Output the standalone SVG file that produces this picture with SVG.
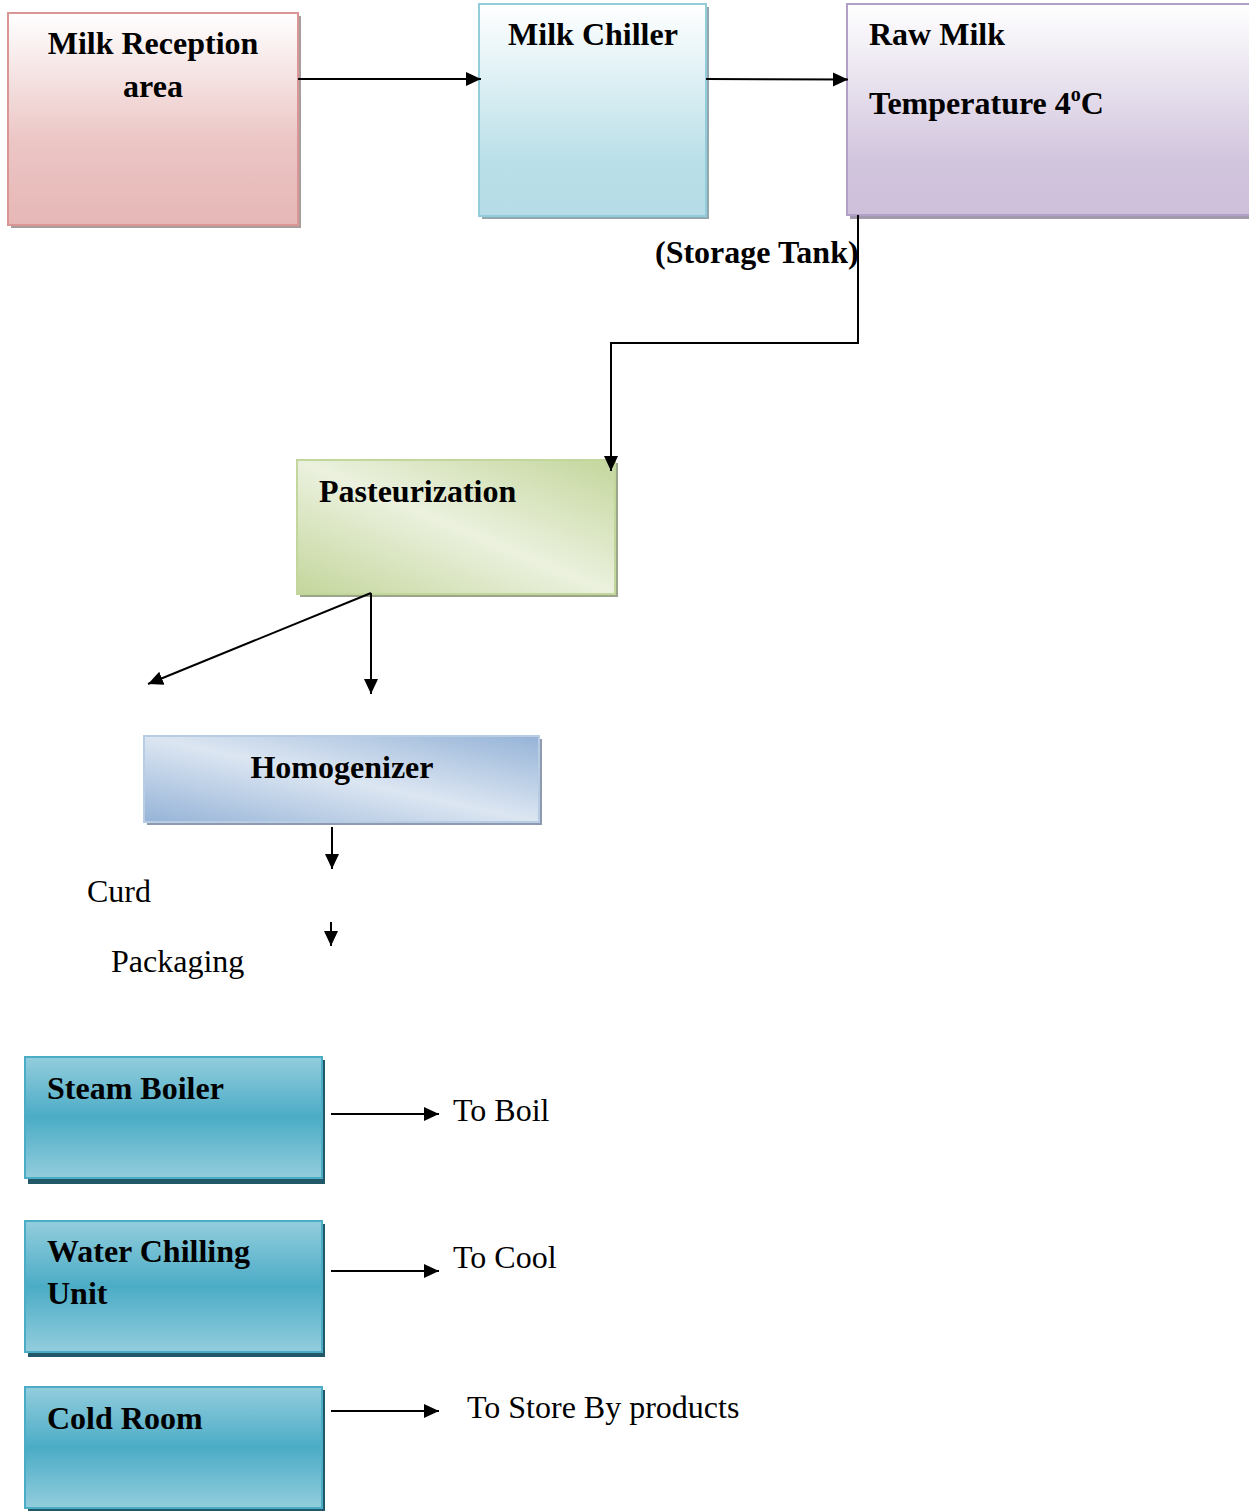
<svg xmlns="http://www.w3.org/2000/svg" width="1249" height="1511" viewBox="0 0 1249 1511">
<defs>
<linearGradient id="gPink" x1="0" y1="0" x2="0" y2="1"><stop offset="0" stop-color="#ffffff"/><stop offset="0.6" stop-color="#ebc6c5"/><stop offset="1" stop-color="#e6b7b6"/></linearGradient>
<linearGradient id="gCyan" x1="0" y1="0" x2="0" y2="1"><stop offset="0" stop-color="#ffffff"/><stop offset="0.75" stop-color="#b9dfe8"/><stop offset="1" stop-color="#b6dde7"/></linearGradient>
<linearGradient id="gPurple" x1="0" y1="0" x2="0" y2="1"><stop offset="0" stop-color="#ffffff"/><stop offset="0.75" stop-color="#d1c4dd"/><stop offset="1" stop-color="#cebfda"/></linearGradient>
<linearGradient id="gGreen" x1="0" y1="1" x2="1" y2="0"><stop offset="0" stop-color="#c4d69c"/><stop offset="0.5" stop-color="#ebf1de"/><stop offset="1" stop-color="#c4d69c"/></linearGradient>
<linearGradient id="gBlue" x1="0" y1="1" x2="1" y2="0"><stop offset="0" stop-color="#95b3d7"/><stop offset="0.5" stop-color="#dce6f2"/><stop offset="1" stop-color="#95b3d7"/></linearGradient>
<linearGradient id="gTeal" x1="0" y1="0" x2="0" y2="1"><stop offset="0" stop-color="#93cddd"/><stop offset="0.5" stop-color="#4bacc6"/><stop offset="1" stop-color="#93cddd"/></linearGradient>
<marker id="ah" markerUnits="userSpaceOnUse" markerWidth="16" markerHeight="16" viewBox="0 0 16 16" refX="15" refY="8" orient="auto"><path d="M0,1 L15,8 L0,15 Z" fill="#000"/></marker>
</defs>
<style>
.b{font-family:"Liberation Serif","Times New Roman",serif;font-weight:bold;font-size:32px;fill:#000}
.n{font-family:"Liberation Serif","Times New Roman",serif;font-size:32px;fill:#000}
.c{stroke:#000;stroke-width:2;fill:none}
.a{stroke:#000;stroke-width:2;fill:none;marker-end:url(#ah)}
</style>
<rect width="1249" height="1511" fill="#fff"/>
<g id="milk-reception">
<rect x="11" y="16" width="290" height="212" fill="#a89c9c"/>
<rect x="8" y="13" width="290" height="212" fill="url(#gPink)" stroke="#d99694" stroke-width="2"/>
<text class="b" x="153" y="54" text-anchor="middle">Milk Reception</text>
<text class="b" x="153" y="97" text-anchor="middle">area</text>
</g>
<g id="milk-chiller">
<rect x="482" y="7" width="227" height="212" fill="#93a8ae"/>
<rect x="479" y="4" width="227" height="212" fill="url(#gCyan)" stroke="#93cddc" stroke-width="2"/>
<text class="b" x="593" y="45" text-anchor="middle">Milk Chiller</text>
</g>
<g id="raw-milk">
<rect x="850" y="7" width="402" height="212" fill="#a399ac"/>
<rect x="847" y="4" width="405" height="211" fill="url(#gPurple)" stroke="#b2a1c7" stroke-width="2"/>
<text class="b" x="869" y="45">Raw Milk</text>
<text class="b" x="869" y="114">Temperature 4<tspan font-size="20" dy="-13">o</tspan><tspan dy="13">C</tspan></text>
</g>
<text id="storage-tank" class="b" x="655" y="263">(Storage Tank)</text>
<g id="pasteurization">
<rect x="300" y="463" width="318" height="134" fill="#9aa58a"/>
<rect x="297" y="460" width="318" height="134" fill="url(#gGreen)" stroke="#c3d69b" stroke-width="2"/>
<text class="b" x="319" y="502">Pasteurization</text>
</g>
<g id="homogenizer">
<rect x="147" y="739" width="395" height="86" fill="#8e9ab0"/>
<rect x="144" y="736" width="395" height="86" fill="url(#gBlue)" stroke="#b8cce4" stroke-width="2"/>
<text class="b" x="342" y="778" text-anchor="middle">Homogenizer</text>
</g>
<text id="curd" class="n" x="87" y="902">Curd</text>
<text id="packaging" class="n" x="111" y="972">Packaging</text>
<g id="steam-boiler">
<rect x="28" y="1060" width="297" height="124" fill="#215968"/>
<rect x="25" y="1057" width="297" height="121" fill="url(#gTeal)" stroke="#4bacc6" stroke-width="2"/>
<text class="b" x="47" y="1099">Steam Boiler</text>
</g>
<g id="water-chilling-unit">
<rect x="28" y="1224" width="297" height="133" fill="#215968"/>
<rect x="25" y="1221" width="297" height="131" fill="url(#gTeal)" stroke="#4bacc6" stroke-width="2"/>
<text class="b" x="47" y="1262">Water Chilling</text>
<text class="b" x="47" y="1304">Unit</text>
</g>
<g id="cold-room">
<rect x="28" y="1390" width="297" height="121" fill="#215968"/>
<rect x="25" y="1387" width="297" height="121" fill="url(#gTeal)" stroke="#4bacc6" stroke-width="2"/>
<text class="b" x="47" y="1429">Cold Room</text>
</g>
<text id="to-boil" class="n" x="453" y="1121">To Boil</text>
<text id="to-cool" class="n" x="453" y="1268">To Cool</text>
<text id="to-store" class="n" x="467" y="1418">To Store By products</text>
<g id="connectors">
<line class="a" x1="298" y1="79" x2="481" y2="79"/>
<line class="a" x1="706" y1="79" x2="848" y2="79.5"/>
<polyline class="a" points="858,215 858,343 611,343 611,471"/>
<line class="a" x1="371" y1="593" x2="371" y2="694"/>
<line class="a" x1="371" y1="593" x2="148" y2="684"/>
<line class="a" x1="332" y1="827" x2="332" y2="869"/>
<line class="a" x1="331" y1="922" x2="331" y2="946"/>
<line class="a" x1="331" y1="1114" x2="439" y2="1114"/>
<line class="a" x1="331" y1="1271" x2="439" y2="1271"/>
<line class="a" x1="331" y1="1411" x2="439" y2="1411"/>
</g>
</svg>
